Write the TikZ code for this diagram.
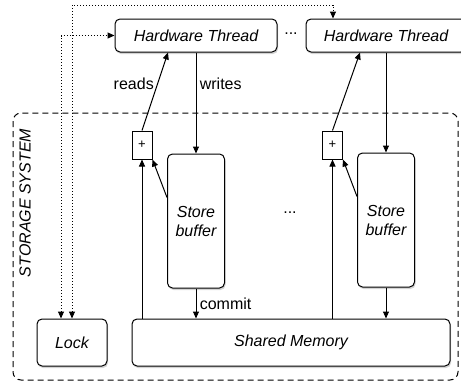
\documentclass[tikz,border=0pt]{standalone}
\usepackage{fontspec}
\setmainfont{Liberation Sans}
\usepackage{tikz}
\usetikzlibrary{positioning, arrows.meta, shapes, shadows}

\begin{document}
\begin{tikzpicture}[x=1pt, y=-1pt, line width=1pt,
    every node/.style={font=\fontsize{16}{19}\selectfont},
    box/.style={draw, rounded corners=5pt, fill=white, align=center, font=\fontsize{16}{19}\selectfont\itshape,
        drop shadow={opacity=0.35, shadow xshift=1pt, shadow yshift=-2pt}},
    plusbox/.style={draw, fill=white, minimum width=20pt, minimum height=28pt, inner sep=0pt, font=\fontsize{13}{15}\selectfont},
    arr/.style={-{Triangle[length=7pt, width=6pt]}},
    lockline/.style={dash pattern=on 1pt off 2pt, {Triangle[length=7pt, width=6pt]}-{Triangle[length=7pt, width=6pt]}}]
        \useasboundingbox (0,0) rectangle (461,383);
        \coordinate (top) at (0,5);
        \draw[dash pattern=on 6pt off 4pt, rounded corners=8pt] (13,113) rectangle (458,380);
        \node[rotate=90, font=\fontsize{16}{19}\selectfont\itshape] (sys) at (25,203) {STORAGE SYSTEM};
        \node[box, minimum width=162pt, minimum height=33pt] (ht1) at (196,35.5) {Hardware Thread};
        \node[box, minimum width=160pt, minimum height=33pt] (ht2) at (386,35.5) {Hardware Thread};
        \node (dots1) at (291,34) {...};
        \node[box, minimum width=57pt, minimum height=134pt] (sb1) at (196,221) {Store\\buffer};
        \node[box, minimum width=57pt, minimum height=134pt] (sb2) at (386,220) {Store\\buffer};
        \node (dots2) at (290,213) {...};
        \node[plusbox] (p1) at (142,145) {+};
        \node[plusbox] (p2) at (332.5,145) {+};
        \node[box, minimum width=318pt, minimum height=47pt] (mem) at (291,342.5) {Shared Memory};
        \node[box, minimum width=70pt, minimum height=47pt] (lock) at (72,342.5) {Lock};
        \draw[arr] (ht1.south) -- node[pos=0.31, right] {writes} (sb1.north);
        \draw[arr] (sb1.south) -- node[right] {commit} (sb1.south |- mem.north);
        \draw[arr] (p1.north) -- node[pos=0.6, left] {reads} ([xshift=-28pt]ht1.south);
        \draw[arr] (mem.north -| p1) -- (p1.south);
        \draw[arr] ([yshift=-44pt]sb1.north west) -- (p1.south east);
        \draw[arr] (ht2.south) -- (sb2.north);
        \draw[arr] (sb2.south) -- (sb2.south |- mem.north);
        \draw[arr] (p2.north) -- ([xshift=-26pt]ht2.south);
        \draw[arr] (mem.north -| p2) -- (p2.south);
        \draw[arr] ([yshift=-44pt]sb2.north west) -- (p2.south east);
        \draw[lockline] ([xshift=-11pt]lock.north) |- (ht1.west);
        \draw[lockline] (lock.north) -- (lock.north |- top) -| ([xshift=-53pt]ht2.north);
    \end{tikzpicture}
\end{document}
